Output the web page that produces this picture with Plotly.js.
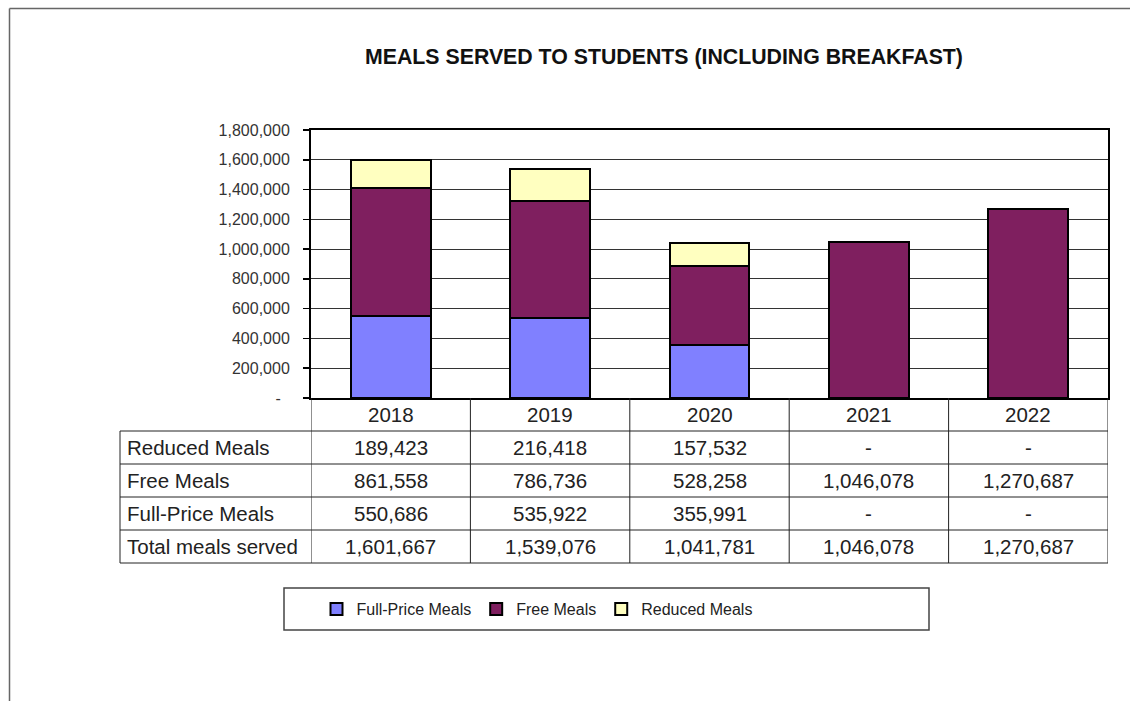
<!DOCTYPE html>
<html>
<head>
<meta charset="utf-8">
<script src="https://cdn.plot.ly/plotly-3.0.1.min.js"></script>
<style>html,body{margin:0;padding:0;background:#fff;}#chart{width:1130px;height:701px;}</style>
</head>
<body>
<div id="chart"></div>
<script>
// ---- data ----
var years = ['2018', '2019', '2020', '2021', '2022'];
var fullPrice = [550686, 535922, 355991, null, null];
var freeMeals = [861558, 786736, 528258, 1046078, 1270687];
var reduced = [189423, 216418, 157532, null, null];
var totals = [1601667, 1539076, 1041781, 1046078, 1270687];
var yTicks = [0, 200000, 400000, 600000, 800000, 1000000, 1200000, 1400000, 1600000, 1800000];
var rowLabels = ['Reduced Meals', 'Free Meals', 'Full-Price Meals', 'Total meals served'];
var seriesNames = ['Full-Price Meals', 'Free Meals', 'Reduced Meals'];
var titleText = 'MEALS SERVED TO STUDENTS (INCLUDING BREAKFAST)';

// ---- helpers ----
var W = 1130, H = 701;
function px(x) { return x / W; }
function py(y) { return 1 - y / H; }
function fmt(v) {
  if (v === null || v === undefined) return '-';
  return String(v).replace(/\B(?=(\d{3})+(?!\d))/g, ',');
}
var FONT = 'Liberation Sans, Arial, sans-serif';
var colors = ['#8080FF', '#7F1F5F', '#FFFFC0'];
var TABLE_FONT = {family: FONT, size: 20.5, color: '#222'};

var traces = [
  {type: 'bar', name: seriesNames[0], x: years, y: fullPrice, marker: {color: colors[0], line: {color: '#000', width: 2}}, width: 0.5},
  {type: 'bar', name: seriesNames[1], x: years, y: freeMeals, marker: {color: colors[1], line: {color: '#000', width: 2}}, width: 0.5},
  {type: 'bar', name: seriesNames[2], x: years, y: reduced, marker: {color: colors[2], line: {color: '#000', width: 2}}, width: 0.5}
];

// table geometry (pixels)
var rowEdges = [398, 431, 464, 497, 530, 563];
var labelLeft = 120, plotLeft = 311, plotRight = 1108;
var tableRows = [reduced, freeMeals, fullPrice, totals];

var shapes = [];
var annotations = [];
var lineStyle = {color: '#222', width: 1};
for (var i = 1; i < rowEdges.length; i++) {
  shapes.push({type: 'line', xref: 'paper', yref: 'paper', x0: px(labelLeft), x1: px(plotRight), y0: py(rowEdges[i]), y1: py(rowEdges[i]), line: lineStyle});
}
shapes.push({type: 'line', xref: 'paper', yref: 'paper', x0: px(labelLeft), x1: px(labelLeft), y0: py(rowEdges[1]), y1: py(rowEdges[5]), line: lineStyle});
for (var c = 0; c <= years.length; c++) {
  shapes.push({type: 'line', xref: 'x', yref: 'paper', x0: c - 0.5, x1: c - 0.5, y0: py(rowEdges[0]), y1: py(rowEdges[5]), line: lineStyle});
}
// header row: years
for (var k0 = 0; k0 < years.length; k0++) {
  annotations.push({xref: 'x', yref: 'paper', x: k0, y: py(414.5), xanchor: 'center', yanchor: 'middle', text: years[k0], showarrow: false, font: TABLE_FONT});
}
// row labels and values
for (var r = 0; r < rowLabels.length; r++) {
  var yc = py((rowEdges[r + 1] + rowEdges[r + 2]) / 2 - 0.5);
  annotations.push({xref: 'paper', yref: 'paper', x: px(125), y: yc, xanchor: 'left', yanchor: 'middle', text: rowLabels[r], showarrow: false, font: TABLE_FONT});
  for (var k = 0; k < years.length; k++) {
    annotations.push({xref: 'x', yref: 'paper', x: k, y: yc, xanchor: 'center', yanchor: 'middle', text: fmt(tableRows[r][k]), showarrow: false, font: TABLE_FONT});
  }
}
// legend box
shapes.push({type: 'rect', xref: 'paper', yref: 'paper', x0: px(284), x1: px(929), y0: py(588), y1: py(630), line: {color: '#444', width: 1.5}, fillcolor: 'rgba(0,0,0,0)'});
// outer frame (top and left)
shapes.push({type: 'line', xref: 'paper', yref: 'paper', x0: px(9.5), x1: px(9.5), y0: py(8.5), y1: 0, line: {color: '#666', width: 1.5}});
shapes.push({type: 'line', xref: 'paper', yref: 'paper', x0: px(9.5), x1: 1, y0: py(8.5), y1: py(8.5), line: {color: '#666', width: 1.5}});

var layout = {
  width: W, height: H,
  margin: {l: 0, r: 0, t: 0, b: 0},
  paper_bgcolor: '#fff', plot_bgcolor: '#fff',
  barmode: 'stack',
  showlegend: true,
  font: {family: FONT, color: '#222'},
  title: {text: '<b>' + titleText + '</b>', x: px(664), xanchor: 'center', y: py(57), yanchor: 'middle', xref: 'paper', yref: 'paper', font: {family: FONT, size: 21.3, color: '#111'}},
  xaxis: {
    domain: [px(plotLeft), px(plotRight)],
    type: 'category', range: [-0.5, 4.5],
    showline: true, linecolor: '#000', linewidth: 2, mirror: true,
    ticks: '', showgrid: false, zeroline: false, showticklabels: false
  },
  yaxis: {
    domain: [py(398), py(130)],
    range: [0, 1800000],
    tickvals: yTicks,
    ticktext: yTicks.map(function (v) { return v === 0 ? '-\u00a0\u00a0' : fmt(v); }),
    showline: true, linecolor: '#000', linewidth: 2, mirror: true,
    ticks: 'outside', ticklen: 6, tickcolor: '#000', tickwidth: 1.5,
    showgrid: true, gridcolor: '#333', gridwidth: 1.2, zeroline: false,
    tickfont: {family: FONT, size: 16, color: '#333'},
    ticklabelstandoff: 10
  },
  legend: {
    orientation: 'h', x: px(537), xanchor: 'center', y: py(609), yanchor: 'middle',
    bgcolor: 'rgba(0,0,0,0)', borderwidth: 0,
    font: {family: FONT, size: 16, color: '#222'},
    traceorder: 'normal'
  },
  shapes: shapes,
  annotations: annotations
};

Plotly.newPlot('chart', traces, layout, {displayModeBar: false, staticPlot: true});
</script>
</body>
</html>
